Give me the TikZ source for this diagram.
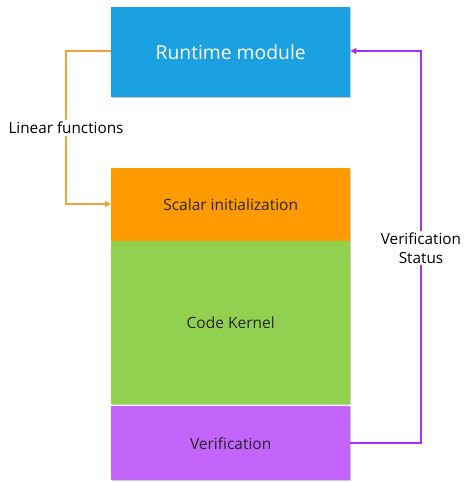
\documentclass[tikz,border=0pt]{standalone}
\usepackage{fontspec}
\setmainfont{Open Sans}
\usetikzlibrary{arrows.meta,shadows}
\definecolor{runblue}{HTML}{1BA1E2}
\definecolor{scalorange}{HTML}{FF9A00}
\definecolor{kerngreen}{HTML}{92D050}
\definecolor{verpurple}{HTML}{C364FA}
\definecolor{linkorange}{HTML}{F2A23A}
\definecolor{linkpurple}{HTML}{A930F0}
\tikzset{
  block/.style={draw=none, minimum width=239pt, inner sep=0pt, anchor=north west,
    drop shadow={shadow xshift=1pt, shadow yshift=-1.2pt, opacity=0.35, fill=black!60}},
  flow/.style={line width=1.3pt, -{Triangle[length=6pt,width=6pt]}},
  lbl/.style={font=\fontsize{15.3}{18.5}\selectfont, fill=white, inner sep=2pt, align=center},
  inner/.style={text=black!85, font=\fontsize{15.5}{18}\selectfont}
}
\begin{document}
\begin{tikzpicture}[x=1pt,y=-1pt]
  \useasboundingbox (0,0) rectangle (466,483);
  \node[block, fill=runblue, minimum height=90pt, text=white,
        font=\fontsize{19.3}{23}\selectfont] (run) at (111,7) {Runtime module};
  \node[block, fill=scalorange, minimum height=73pt, inner] (scal) at (111,168) {Scalar initialization};
  \node[block, fill=kerngreen, minimum height=163pt, inner] (kern) at (111,241) {Code Kernel};
  \node[block, fill=verpurple, minimum height=74pt, inner] (ver) at (111,406) {Verification};

  \coordinate (lc) at (66,128);
  \coordinate (rc) at (421,248);

  \draw[flow, linkorange] (run.west |- 0,51) -| (lc) |- (scal.west |- 0,204);
  \draw[flow, linkpurple] (ver.east |- 0,443) -| (rc) |- (run.east |- 0,51);

  \node[lbl] (lf) at (lc) {Linear functions};
  \node[lbl] (vs) at (rc) {Verification\\Status};
\end{tikzpicture}
\end{document}
